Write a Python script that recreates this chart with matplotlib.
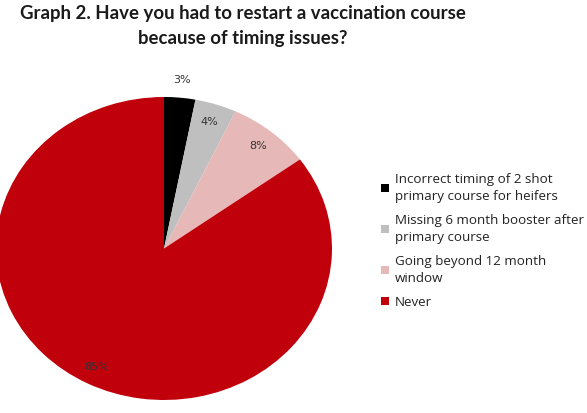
import numpy as np
import matplotlib
matplotlib.use("Agg")
import matplotlib.pyplot as plt
from matplotlib.patches import Patch

categories = ["Incorrect timing of 2 shot\nprimary course for heifers",
              "Missing 6 month booster after\nprimary course",
              "Going beyond 12 month\nwindow",
              "Never"]
values = [3, 4, 8, 85]
colors = ["#000000", "#bfbfbf", "#e6b8b7", "#c0000b"]
title = "Graph 2. Have you had to restart a vaccination course\nbecause of timing issues?"

W, H = 587, 413
fig = plt.figure(figsize=(W/100, H/100), dpi=100)
# pie axes (elliptical, matching reference)
ax = fig.add_axes([-4/W, 13/H, 336/W, 303/H])
wedges, texts, autotexts = ax.pie(values, colors=colors, startangle=90, counterclock=False,
                                  autopct=lambda p: f"{p:.0f}%", pctdistance=0.88,
                                  textprops=dict(fontsize=8, color="#333333", family="DejaVu Sans"))
ax.set_aspect("auto")
ax.set_xlim(-1, 1)
ax.set_ylim(-1, 1)
# move the small first label outside
w0 = wedges[0]
mid = np.deg2rad((w0.theta1 + w0.theta2) / 2)
autotexts[0].set_position((1.12*np.cos(mid), 1.12*np.sin(mid)))

fig.text(0.5*(20+465)/W, 1 - 26/H, title, ha="center", va="center", fontsize=13.4,
         fontweight="bold", family="Lato", color="#1a1a1a", linespacing=1.55)

handles = [Patch(facecolor=c, edgecolor="none") for c in colors]
leg = fig.legend(handles, categories, loc="upper left", bbox_to_anchor=(376/W, 1 - 168/H),
                 frameon=False, fontsize=9.6, handlelength=0.55, handleheight=0.55,
                 handletextpad=0.45, labelspacing=0.85, borderaxespad=0)
for t in leg.get_texts():
    t.set_color("#222222")
    t.set_family("Open Sans")
    t.set_linespacing(1.35)

fig.savefig("out.png", dpi=100)
